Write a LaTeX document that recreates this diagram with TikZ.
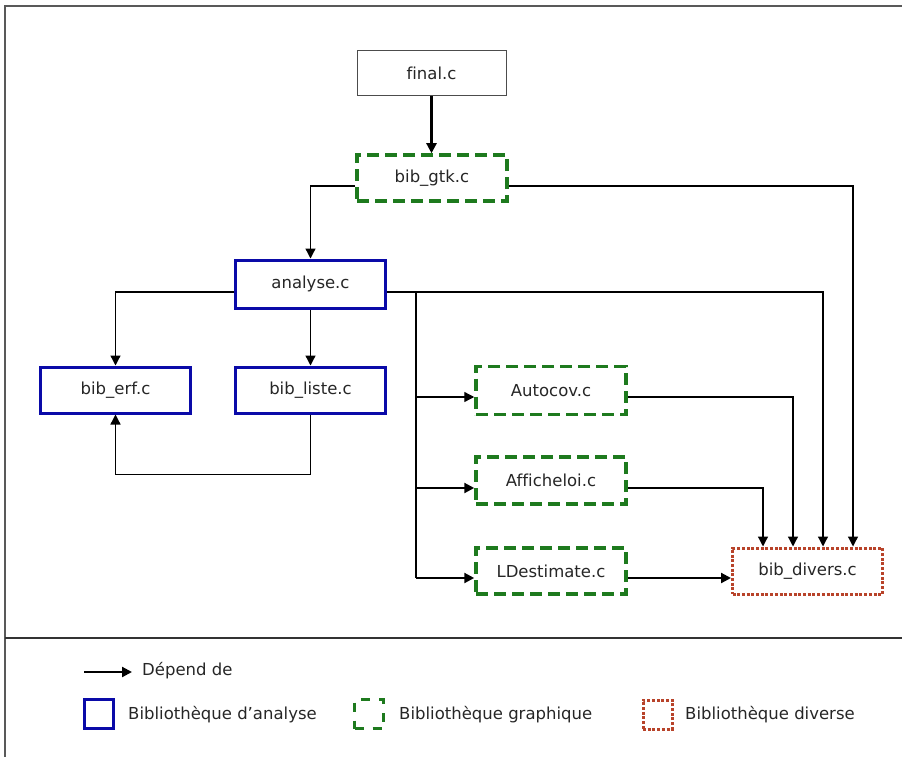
\documentclass[tikz,border=0pt]{standalone}
\usepackage{fontspec}
\setmainfont[Ligatures=NoCommon]{DejaVu Sans}
\usetikzlibrary{arrows.meta}
\definecolor{anablue}{HTML}{0A0AA8}
\definecolor{gfxgreen}{HTML}{1E7A1E}
\definecolor{divred}{HTML}{B8432A}
\begin{document}
\begin{tikzpicture}[x=1pt,y=-1pt,
  every node/.style={font=\fontsize{16.5}{20}\selectfont, text=black!85},
  box/.style={draw, rectangle, minimum width=150pt, minimum height=46pt, inner sep=0pt, fill=white},
  plainbox/.style={box, draw=black!70, line width=1pt},
  anabox/.style={box, draw=anablue, line width=3pt},
  gfxbox/.style={box, draw=gfxgreen, line width=3.5pt, dash pattern=on 12pt off 6pt},
  divbox/.style={box, draw=divred, line width=3pt, dash pattern=on 3pt off 1.7pt},
  dep/.style={draw=black, line width=1.3pt, -{Triangle[length=10pt,width=10pt]}},
  depthick/.style={dep, line width=2.2pt},
  legtext/.style={anchor=west, inner sep=0pt},
  legsq/.style={rectangle, minimum size=29pt, inner sep=0pt},
  frameline/.style={draw=black!65, line width=1.5pt},
]
\useasboundingbox (0,0) rectangle (902,757);
% frame
\coordinate (ftr) at (902,6);
\coordinate (ftl) at (5,6);
\coordinate (fbl) at (5,757);
\coordinate (sepl) at (5,638);
\coordinate (sepr) at (902,638);
\draw[frameline] (ftr) -- (ftl) -- (fbl);
\draw[frameline, draw=black!80] (sepl) -- (sepr);

% nodes
\node[plainbox, minimum width=149pt, minimum height=45pt] (final) at (431.5,73.5) {final.c};
\node[gfxbox] (gtk) at (432,178) {bib\_gtk.c};
\node[anabox, minimum height=48pt] (analyse) at (310.5,284) {analyse.c};
\node[anabox] (erf) at (115.5,390) {bib\_erf.c};
\node[anabox] (liste) at (310.5,390) {bib\_liste.c};
\node[gfxbox, minimum height=48pt] (autocov) at (551,390.5) {Autocov.c};
\node[gfxbox, minimum height=47pt] (affiche) at (551,480.5) {Afficheloi.c};
\node[gfxbox] (ldest) at (551,571) {LDestimate.c};
\node[divbox] (divers) at (807.5,571) {bib\_divers.c};

% connectors
\draw[depthick] (final.south) -- (final.south |- gtk.north);
\draw[dep] ([yshift=-8pt]gtk.west) -| (analyse.north);
\draw[dep] ([yshift=-8pt]gtk.east) -| ([xshift=45.5pt]divers.north);
\draw[dep] ([yshift=-8pt]analyse.west) -| (erf.north);
\draw[dep] (analyse) -- (liste);
\draw[dep] ([yshift=-8pt]analyse.east) -| ([xshift=15.5pt]divers.north);
\coordinate (bus) at (416,292);
\coordinate (inA) at ([yshift=-6.5pt]autocov.west);
\coordinate (inB) at ([yshift=-7.5pt]affiche.west);
\coordinate (inC) at ([yshift=-7pt]ldest.west);
\draw[line width=1.3pt] (bus) -- (bus |- inC);
\draw[dep] (bus |- inA) -- (inA);
\draw[depthick] (bus |- inB) -- (inB);
\draw[depthick] (bus |- inC) -- (inC);
\draw[dep] ([yshift=-6.5pt]autocov.east) -| ([xshift=-14.5pt]divers.north);
\draw[dep] ([yshift=-7.5pt]affiche.east) -| ([xshift=-44.5pt]divers.north);
\draw[depthick] ([yshift=-7pt]ldest.east) -- ([yshift=-7pt]divers.west);
\draw[dep] (liste.south) -- ++(0,60) -| (erf.south);

% legend
\coordinate (la) at (84,672);
\coordinate (lb) at (132,672);
\draw[depthick] (la) -- (lb);
\node[legtext] (ldep) at (142,671) {Dépend de};
\node[legsq, draw=anablue, line width=3pt] (lsqA) at (99,714) {};
\node[legtext] (ltA) at (128,715) {Bibliothèque d’analyse};
\node[legsq, draw=gfxgreen, line width=3.5pt, dash pattern=on 9pt off 9pt] (lsqB) at (369,714) {};
\node[legtext] (ltB) at (399,715) {Bibliothèque graphique};
\node[legsq, draw=divred, line width=3pt, dash pattern=on 3pt off 1.7pt] (lsqC) at (657.5,714.5) {};
\node[legtext] (ltC) at (685,715) {Bibliothèque diverse};
\end{tikzpicture}
\end{document}
